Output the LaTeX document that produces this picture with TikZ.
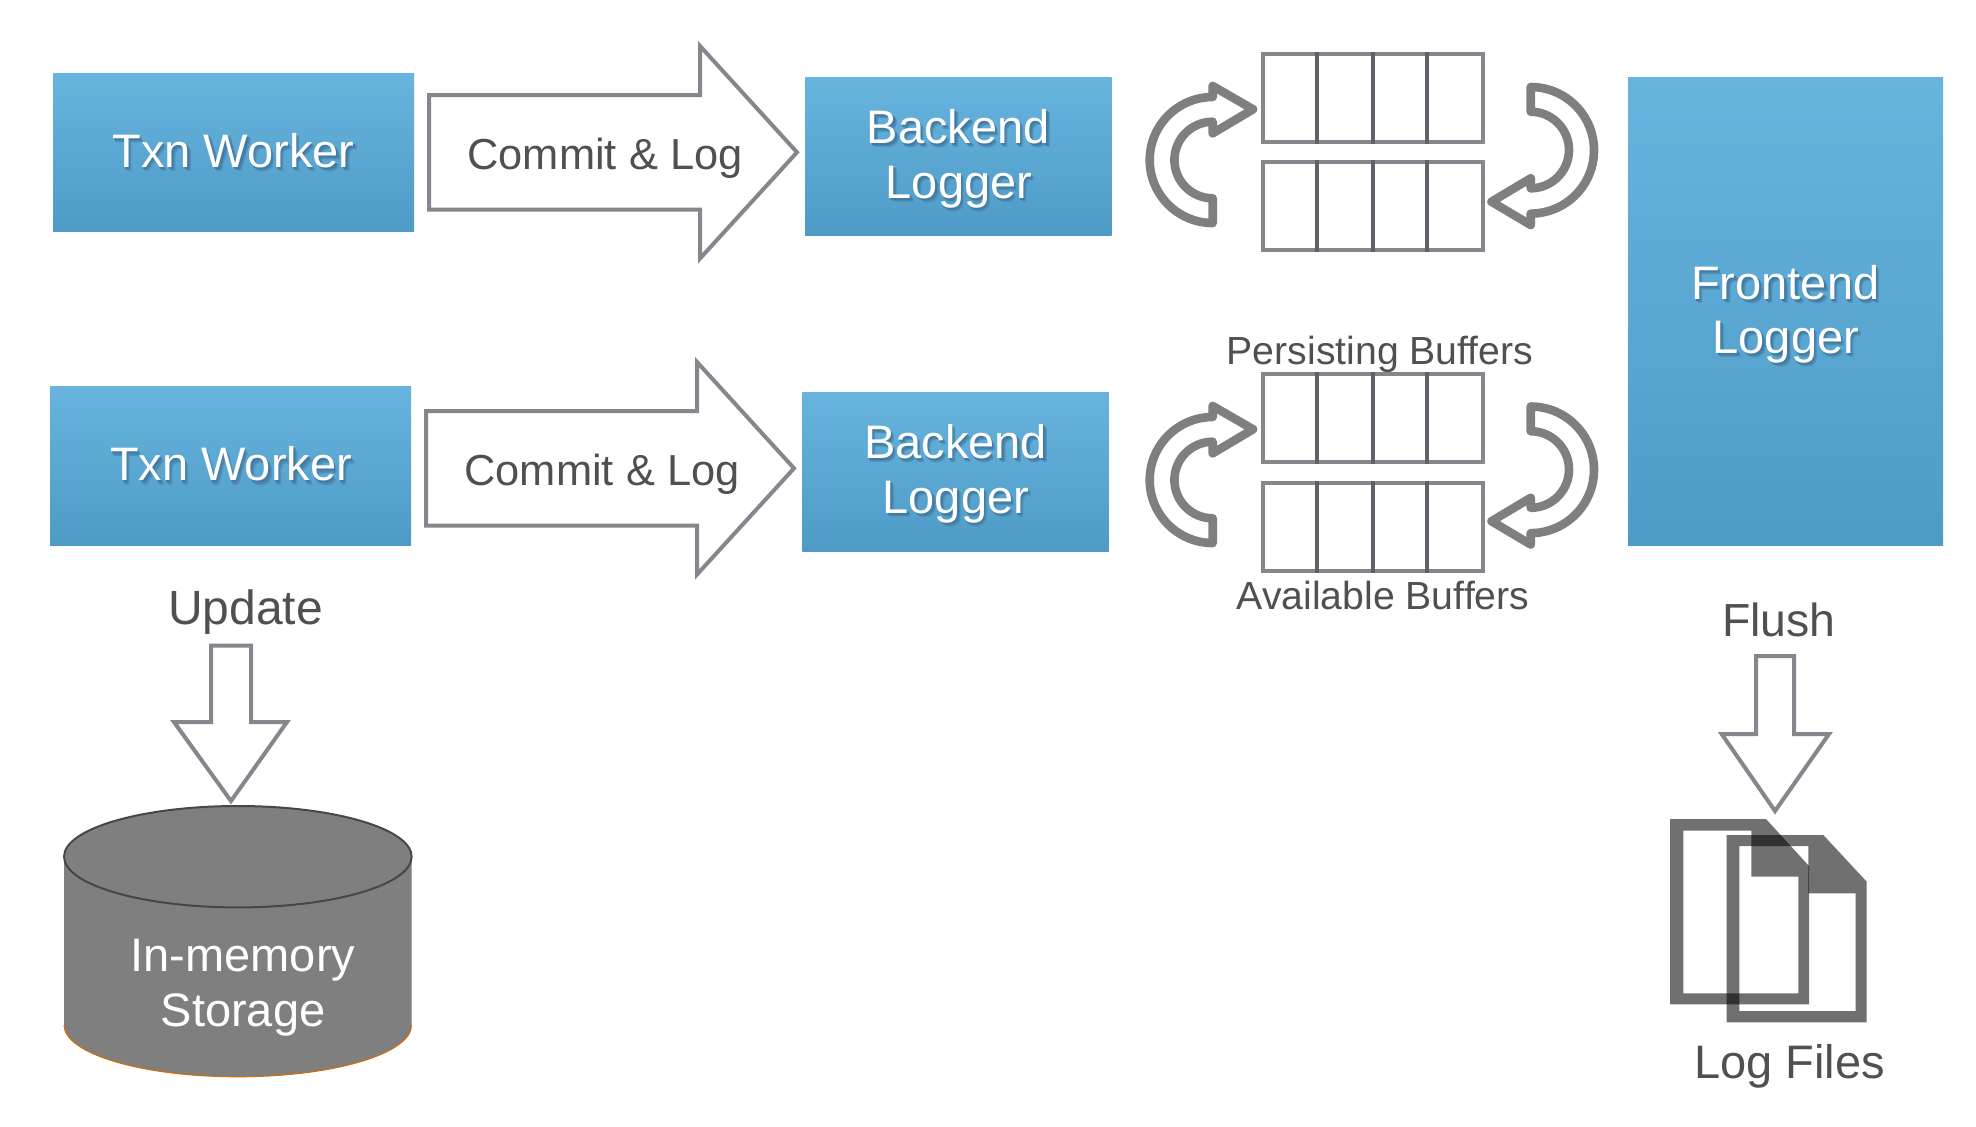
\documentclass[tikz,border=0pt]{standalone}
\usepackage{fontspec}
\setmainfont{Liberation Sans}
\definecolor{boxtop}{HTML}{67B4DF}
\definecolor{boxbot}{HTML}{4E9BC7}
\definecolor{edgegrey}{HTML}{85878C}
\definecolor{divgrey}{HTML}{5F6068}
\definecolor{turngrey}{HTML}{7F7F7F}
\definecolor{inkgrey}{HTML}{505050}
\definecolor{shA}{HTML}{5494BE}
\definecolor{shB}{HTML}{4B88B0}
\definecolor{shC}{HTML}{427CA3}
\newcommand{\boxfont}{\fontsize{23.5}{27.5}\selectfont}
\newcommand{\shd}[1]{\leavevmode\rlap{\kern1.7pt\raisebox{-2.3pt}{\color{shA}#1}}\rlap{\kern1.2pt\raisebox{-1.7pt}{\color{shB}#1}}\rlap{\kern.7pt\raisebox{-1.1pt}{\color{shC}#1}}#1}
\tikzset{
  bluebox/.style={top color=boxtop,bottom color=boxbot,draw=none,inner sep=0pt},
  blockarrow/.style={draw=edgegrey,line width=2pt,fill=white,miter limit=10},
  turnarrow/.style={draw=turngrey,line width=4.3pt,line join=round},
  tag/.style={anchor=base,inner sep=0pt,text=inkgrey,font=\boxfont},
  committag/.style={anchor=base,inner sep=0pt,text=inkgrey,font=\fontsize{21.7}{27.5}\selectfont},
  smalltag/.style={anchor=base,inner sep=0pt,text=inkgrey,font=\fontsize{19.6}{24}\selectfont},
  whitetag/.style={anchor=base,inner sep=0pt,text=white,font=\boxfont},
  doc/.style={fill=black,fill opacity=0.56,even odd rule,draw=none},
  bufbar/.pic={
    \draw[edgegrey,line width=1.9pt] (1263,0) rectangle (1483,88);
    \draw[divgrey,line width=1.9pt] (1317.3,-2) -- (1317.3,90) (1373,-2) -- (1373,90) (1427.3,-2) -- (1427.3,90);
  },
  turnleft/.pic={
    \draw[turnarrow] (1212.7,97) arc[start angle=90,end angle=270,radius=31.5pt]
      -- (1212.7,198.3) arc[start angle=270,end angle=90,radius=19.15pt]
      -- (1212.7,133.3) -- (1253,109.3) -- (1212.7,86) -- cycle;
  },
  turnright/.pic={
    \draw[turnarrow] (1530.7,87) arc[start angle=90,end angle=-90,radius=31.65pt]
      -- (1530.7,225) -- (1491.5,201.7) -- (1530.7,178.3) -- (1530.7,188.3)
      arc[start angle=-90,end angle=90,radius=19.15pt] -- cycle;
  },
  commitarrow/.pic={
    \draw[blockarrow] (426,411) -- (697,411) -- (697,362) -- (794,468.3) -- (697,574.5) -- (697,525.7) -- (426,525.7) -- cycle;
  },
}
\begin{document}
\begin{tikzpicture}[x=0.5pt,y=-0.5pt]
\useasboundingbox[fill=white] (0,0) rectangle (1976,1126);

% blue boxes
\node[bluebox,minimum width=180.5pt,minimum height=79.25pt] (worker1) at (233.5,152.3) {};
\node[bluebox,minimum width=180.5pt,minimum height=79.5pt] (worker2) at (230.5,465.5) {};
\node[bluebox,minimum width=153.25pt,minimum height=79.25pt] (backend1) at (958.25,156.3) {};
\node[bluebox,minimum width=153.25pt,minimum height=79.5pt] (backend2) at (955.5,471.5) {};
\node[bluebox,minimum width=157.5pt,minimum height=234pt] (frontend) at (1785.5,311) {};

% box texts
\node[whitetag] (txn1) at (233.5,167.3) {\shd{Txn Worker}};
\node[whitetag] (txn2) at (231,480.7) {\shd{Txn Worker}};
\node[whitetag] (back1) at (958.3,143.3) {\shd{Backend}};
\node[whitetag] (log1) at (959,198.3) {\shd{Logger}};
\node[whitetag] (back2) at (955.5,458.3) {\shd{Backend}};
\node[whitetag] (log2) at (955.8,513.3) {\shd{Logger}};
\node[whitetag] (front) at (1785.3,299) {\shd{Frontend}};
\node[whitetag] (log3) at (1785.8,353.3) {\shd{Logger}};

% commit arrows
\pic at (3,-316) {commitarrow};
\pic at (0,0) {commitarrow};
\node[committag] (commit1) at (605,169) {Commit \& Log};
\node[committag] (commit2) at (602,485) {Commit \& Log};

% buffers
\pic at (0,54) {bufbar};
\pic at (0,162) {bufbar};
\pic at (0,374) {bufbar};
\pic at (0,483) {bufbar};
\pic at (0,0) {turnleft};
\pic at (0,320) {turnleft};
\pic at (0,0) {turnright};
\pic at (0,319.5) {turnright};
\node[smalltag] (persist) at (1380,364) {Persisting Buffers};
\node[smalltag] (avail) at (1383,609.5) {Available Buffers};

% update
\node[tag,font=\fontsize{24}{27.5}\selectfont] (update) at (245.5,624.5) {Update};
\draw[blockarrow] (211,645.7) -- (251,645.7) -- (251,722) -- (287,722) -- (231,801) -- (174,722) -- (211,722) -- cycle;

% storage
\fill[turngrey] (64,856.7) -- (64,1025) arc[start angle=180,end angle=360,x radius=86.9pt,y radius=25.9pt] -- (411.7,856.7) -- cycle;
\draw[draw=orange!85!black,line width=0.5pt] (64,1025) arc[start angle=180,end angle=360,x radius=86.9pt,y radius=25.9pt];
\draw[fill=turngrey,draw=black!72,line width=1pt] (237.85,856.7) ellipse[x radius=86.9pt,y radius=25.35pt];
\node[whitetag] (inmem) at (243,971.7) {In-memory};
\node[whitetag] (storage) at (243,1026.7) {Storage};

% flush
\node[tag,font=\fontsize{23.2}{27.5}\selectfont] (flush) at (1779,636) {Flush};
\draw[blockarrow] (1756,656) -- (1794,656) -- (1794,734) -- (1829,734) -- (1775,811) -- (1721.7,734) -- (1756,734) -- cycle;

% log files
\fill[doc] (1670,819) -- (1766,819) -- (1809,866) -- (1809,1004.3) -- (1670,1004.3) -- cycle
  (1683.3,830.7) -- (1751.3,830.7) -- (1751.3,876.7) -- (1798.3,876.7) -- (1798.3,993.3) -- (1683.3,993.3) -- cycle;
\fill[doc] (1726.7,835) -- (1823.3,835) -- (1866.7,881.7) -- (1866.7,1022.3) -- (1726.7,1022.3) -- cycle
  (1739.3,846) -- (1808.3,846) -- (1808.3,893.3) -- (1855.7,893.3) -- (1855.7,1011) -- (1739.3,1011) -- cycle;
\node[tag] (logfiles) at (1789.5,1078) {Log Files};
\end{tikzpicture}
\end{document}
